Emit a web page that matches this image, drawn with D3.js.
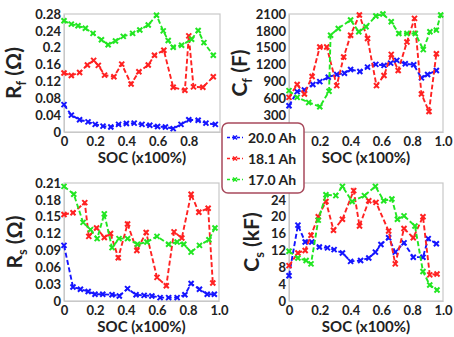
<!DOCTYPE html>
<html><head><meta charset="utf-8">
<script src="https://cdn.jsdelivr.net/npm/d3@7"></script>
<style>
body{margin:0;background:#fff}
svg{display:block}
text{font-family:Lato,"Open Sans",sans-serif;font-weight:bold;fill:#222}
</style>
</head><body>
<svg id="chart" width="454" height="337"></svg>
<script>
// ---------- data ----------
const seriesNames = ["20.0 Ah", "18.1 Ah", "17.0 Ah"];
const seriesColors = ["#1515ff", "#ff2222", "#22e622"];

const xTicks = [0, 0.2, 0.4, 0.6, 0.8, 1.0];
const rfTicks = [0, 0.04, 0.08, 0.12, 0.16, 0.2, 0.24, 0.28];
const cfTicks = [0, 300, 600, 900, 1200, 1500, 1800, 2100];
const rsTicks = [0, 0.03, 0.06, 0.09, 0.12, 0.15, 0.18, 0.21];
const csTicks = [0, 4, 8, 12, 16, 20, 24, 28];

// R_f (Ohm)
const rfSoc20 = [0, 0.047, 0.1, 0.154, 0.2, 0.25, 0.3, 0.35, 0.4, 0.45, 0.5, 0.55, 0.6, 0.65, 0.7, 0.75, 0.8, 0.86, 0.91, 0.97];
const rfVal20 = [0.065, 0.04, 0.029, 0.024, 0.018, 0.014, 0.012, 0.018, 0.02, 0.021, 0.018, 0.016, 0.013, 0.012, 0.008, 0.018, 0.029, 0.028, 0.021, 0.018];
const rfSoc18 = [0, 0.047, 0.1, 0.15, 0.19, 0.22, 0.26, 0.32, 0.37, 0.43, 0.48, 0.54, 0.58, 0.64, 0.7, 0.775, 0.8, 0.83, 0.89, 0.957];
const rfVal18 = [0.14, 0.134, 0.141, 0.159, 0.17, 0.158, 0.135, 0.131, 0.161, 0.114, 0.143, 0.159, 0.182, 0.194, 0.106, 0.099, 0.228, 0.107, 0.106, 0.131];
const rfSoc17 = [0, 0.047, 0.09, 0.137, 0.186, 0.24, 0.283, 0.33, 0.38, 0.44, 0.486, 0.54, 0.593, 0.636, 0.668, 0.7, 0.754, 0.818, 0.86, 0.897, 0.957];
const rfVal17 = [0.264, 0.256, 0.252, 0.246, 0.234, 0.219, 0.207, 0.216, 0.227, 0.234, 0.242, 0.254, 0.277, 0.24, 0.217, 0.201, 0.206, 0.22, 0.241, 0.212, 0.182];

// C_f (F)
const cfSoc20 = [0, 0.053, 0.1, 0.155, 0.2, 0.255, 0.31, 0.36, 0.4, 0.46, 0.51, 0.564, 0.617, 0.66, 0.7, 0.755, 0.81, 0.86, 0.9, 0.957];
const cfVal20 = [467, 718, 748, 844, 897, 975, 1023, 1047, 1113, 1077, 1155, 1203, 1185, 1226, 1274, 1214, 1197, 963, 1023, 1095];
const cfSoc18 = [0, 0.053, 0.1, 0.15, 0.2, 0.245, 0.31, 0.355, 0.4, 0.457, 0.51, 0.568, 0.617, 0.664, 0.709, 0.766, 0.815, 0.86, 0.909, 0.957];
const cfVal18 = [616, 844, 676, 987, 1514, 1514, 826, 1334, 1723, 2082, 1663, 826, 1005, 1382, 1095, 1603, 2022, 676, 365, 1394];
const cfSoc17 = [0, 0.053, 0.128, 0.2, 0.26, 0.27, 0.32, 0.4, 0.453, 0.5, 0.564, 0.61, 0.664, 0.713, 0.766, 0.82, 0.872, 0.915, 0.957, 0.985];
const cfVal17 = [736, 616, 526, 449, 724, 1723, 1843, 1993, 1783, 1873, 2064, 2100, 1963, 1753, 1753, 1753, 1466, 1783, 1813, 2082];

// R_s (Ohm)
const rsSoc20 = [0, 0.058, 0.106, 0.156, 0.2, 0.25, 0.31, 0.357, 0.41, 0.465, 0.517, 0.567, 0.62, 0.675, 0.73, 0.78, 0.82, 0.874, 0.924, 0.97];
const rsVal20 = [0.099, 0.025, 0.021, 0.017, 0.012, 0.012, 0.011, 0.009, 0.022, 0.011, 0.01, 0.009, 0.006, 0.006, 0.006, 0.011, 0.031, 0.021, 0.012, 0.012];
const rsSoc18 = [0, 0.058, 0.134, 0.16, 0.21, 0.26, 0.3, 0.35, 0.41, 0.47, 0.53, 0.6, 0.66, 0.71, 0.76, 0.82, 0.87, 0.93, 0.96];
const rsVal18 = [0.154, 0.157, 0.175, 0.115, 0.13, 0.113, 0.12, 0.077, 0.137, 0.09, 0.122, 0.042, 0.027, 0.123, 0.112, 0.19, 0.158, 0.165, 0.032];
const rsSoc17 = [0, 0.063, 0.123, 0.171, 0.214, 0.26, 0.31, 0.355, 0.41, 0.474, 0.535, 0.6, 0.675, 0.73, 0.773, 0.82, 0.874, 0.935, 0.974];
const rsVal17 = [0.204, 0.19, 0.14, 0.127, 0.111, 0.155, 0.095, 0.111, 0.111, 0.101, 0.105, 0.115, 0.101, 0.105, 0.101, 0.087, 0.099, 0.109, 0.13];

// C_s (kF)
const csSoc20 = [0, 0.058, 0.105, 0.148, 0.197, 0.25, 0.293, 0.347, 0.4, 0.465, 0.518, 0.561, 0.597, 0.647, 0.69, 0.747, 0.807, 0.87, 0.904, 0.957];
const csVal20 = [6.0, 18.0, 14.0, 14.0, 12.8, 12.6, 12.2, 11.4, 9.4, 9.6, 10.2, 11.6, 13.4, 15.0, 11.6, 13.8, 10.4, 10.4, 14.8, 13.6];
const csSoc18 = [0, 0.058, 0.105, 0.143, 0.19, 0.24, 0.289, 0.347, 0.42, 0.458, 0.518, 0.565, 0.647, 0.69, 0.747, 0.807, 0.87, 0.914, 0.961];
const csVal18 = [8.4, 11.4, 12.0, 15.6, 20.0, 23.6, 16.8, 19.4, 26.2, 17.8, 23.8, 23.4, 16.6, 8.8, 17.2, 15.0, 20.0, 6.2, 6.4];
const csSoc17 = [0, 0.058, 0.111, 0.143, 0.19, 0.24, 0.304, 0.347, 0.41, 0.49, 0.561, 0.615, 0.668, 0.704, 0.747, 0.818, 0.87, 0.914, 0.961];
const csVal17 = [11.8, 10.2, 9.6, 8.8, 19.2, 25.2, 25.0, 27.2, 23.6, 25.0, 27.2, 23.8, 24.2, 19.4, 20.2, 17.8, 7.0, 3.8, 2.6];

// ---------- layout ----------
// hideX / hideY: tick labels that sit under the legend box in the reference
const panels = [
  {soc:[rfSoc20, rfSoc18, rfSoc17], val:[rfVal20, rfVal18, rfVal17], ticks:rfTicks,
   box:[64, 220, 14, 132], lab:["R","f"," (Ω)"], labX:14, hideX:[1.0], hideY:[]},
  {soc:[cfSoc20, cfSoc18, cfSoc17], val:[cfVal20, cfVal18, cfVal17], ticks:cfTicks,
   box:[289, 443, 14, 132], lab:["C","f"," (F)"], labX:240, hideX:[0], hideY:[0]},
  {soc:[rsSoc20, rsSoc18, rsSoc17], val:[rsVal20, rsVal18, rsVal17], ticks:rsTicks,
   box:[64, 219, 183, 301], lab:["R","s"," (Ω)"], labX:15, hideX:[], hideY:[]},
  {soc:[csSoc20, csSoc18, csSoc17], val:[csVal20, csVal18, csVal17], ticks:csTicks,
   box:[289, 443, 183, 301], lab:["C","s"," (kF)"], labX:252, hideX:[], hideY:[28]}
];

const svg = d3.select("#chart");
const markerPath = "M-2.5,-2.5L2.5,2.5M-2.5,2.5L2.5,-2.5";

panels.forEach(p => {
  const [x0, x1, y0, y1] = p.box;
  const x = d3.scaleLinear().domain([0, 1]).range([x0, x1]);
  const y = d3.scaleLinear().domain([0, p.ticks[p.ticks.length - 1]]).range([y1, y0]);
  const g = svg.append("g");

  g.append("rect").attr("x", x0).attr("y", y0).attr("width", x1 - x0).attr("height", y1 - y0)
    .attr("fill", "none").attr("stroke", "#c8c8c8").attr("stroke-width", 1.2);

  const xa = g.append("g").attr("transform", `translate(0,${y1})`)
    .call(d3.axisBottom(x).tickValues(xTicks.filter(v => !p.hideX.includes(v)))
      .tickSize(0).tickPadding(5)
      .tickFormat(d => d === 0 ? "0" : d.toFixed(1)));
  xa.select(".domain").attr("stroke", "#c8c8c8");
  xa.selectAll("text").style("font-size", "13px").style("font-family", "Lato").style("font-weight", "bold").attr("fill", "#222");

  const ya = g.append("g").attr("transform", `translate(${x0},0)`)
    .call(d3.axisLeft(y).tickValues(p.ticks.filter(v => !p.hideY.includes(v)))
      .tickSize(0).tickPadding(3).tickFormat(d3.format("~g")));
  ya.select(".domain").attr("stroke", "#c8c8c8");
  ya.selectAll("text").style("font-size", "13px").style("font-family", "Lato").style("font-weight", "bold").attr("fill", "#222");

  g.append("text").attr("x", (x0 + x1) / 2).attr("y", y1 + 31).attr("text-anchor", "middle")
    .style("font-size", "15px").text("SOC (x100%)");

  const cy = (y0 + y1) / 2;
  const t = g.append("text").attr("transform", `translate(${p.labX},${cy}) rotate(-90)`)
    .attr("text-anchor", "middle").attr("dy", "0.35em").style("font-size", "21px");
  t.append("tspan").text(p.lab[0]);
  t.append("tspan").attr("dy", 5).style("font-size", "13px").text(p.lab[1]);
  t.append("tspan").attr("dy", -5).text(p.lab[2]);

  p.soc.forEach((socArr, i) => {
    const pts = socArr.map((s, k) => [s, p.val[i][k]]);
    g.append("path").datum(pts)
      .attr("fill", "none").attr("stroke", seriesColors[i]).attr("stroke-width", 1.9)
      .attr("stroke-dasharray", "5,2.5")
      .attr("d", d3.line().x(d => x(d[0])).y(d => y(d[1])));
    g.selectAll(null).data(pts).enter().append("path")
      .attr("transform", d => `translate(${x(d[0])},${y(d[1])})`)
      .attr("d", markerPath).attr("stroke", seriesColors[i]).attr("stroke-width", 2).attr("fill", "none");
  });
});

// legend
const lg = svg.append("g");
lg.append("rect").attr("x", 222).attr("y", 123).attr("width", 82).attr("height", 70)
  .attr("rx", 6).attr("ry", 6).attr("fill", "#fff").attr("stroke", "#a84a5c").attr("stroke-width", 1.5);
seriesNames.forEach((name, i) => {
  const yy = 137.5 + i * 21;
  lg.append("line").attr("x1", 227).attr("x2", 243).attr("y1", yy).attr("y2", yy)
    .attr("stroke", seriesColors[i]).attr("stroke-width", 1.4).attr("stroke-dasharray", "3,2");
  lg.append("path").attr("transform", `translate(235,${yy})`).attr("d", "M-2,-2L2,2M-2,2L2,-2")
    .attr("stroke", seriesColors[i]).attr("stroke-width", 1.6);
  lg.append("text").attr("x", 248).attr("y", yy).attr("dy", "0.36em")
    .style("font-size", "14px").text(name);
});
</script>
</body></html>
